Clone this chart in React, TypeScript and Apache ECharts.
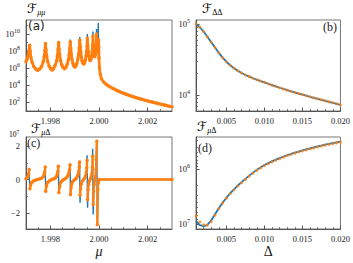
import React, { useEffect, useRef } from 'react';
import * as echarts from 'echarts';

const BLUE = '#1f77b4';
const ORANGE = '#ff7f0e';
const AX = '#555';
const TXT = '#1a1a1a';
const SERIF = "'Liberation Serif', 'DejaVu Serif', serif";
const SCRIPT = "'DejaVu Sans', 'Noto Sans', sans-serif";

// ---------- panel (a): log10 F_mumu vs mu ----------
const muA = [1.99700, 1.99705, 1.99710, 1.99713, 1.99715,
  1.99717, 1.99720, 1.99725, 1.99732, 1.99740, 1.99748, 1.99756, 1.99764, 1.99771, 1.99775, 1.99778, 1.99780,
  1.99782, 1.99785, 1.99789, 1.99795, 1.99801, 1.99807, 1.99813, 1.99819, 1.99826, 1.99829, 1.99832, 1.99834,
  1.99836, 1.99838, 1.99842, 1.99847, 1.99852, 1.99858, 1.99864, 1.99869, 1.99874, 1.99877, 1.99880, 1.99882,
  1.99884, 1.99886, 1.99889, 1.99893, 1.99897, 1.99901, 1.99905, 1.99909, 1.99913, 1.99916, 1.99919, 1.99921,
  1.99923, 1.99925, 1.99927, 1.99930, 1.99933, 1.99937, 1.99941, 1.99944, 1.99947, 1.99949, 1.99951, 1.99952,
  1.99954, 1.99956, 1.99958, 1.99961, 1.99964, 1.99967, 1.99970, 1.99972, 1.99974, 1.99975,
  1.99977, 1.99979, 1.99982, 1.99985, 1.99987, 1.99989, 1.99990,
  1.99992, 1.99994, 1.99996, 1.99998, 1.99999, 2.00000, 2.00002, 2.00005, 2.00010,
  2.0002, 2.0003, 2.0004, 2.0005, 2.0006, 2.0007, 2.0008, 2.0009, 2.0010, 2.0011, 2.0012, 2.0013, 2.0014, 2.0015,
  2.0016, 2.0017, 2.0018, 2.0019, 2.0020, 2.0021, 2.0022, 2.0023, 2.0024, 2.0025, 2.0026, 2.0027, 2.0028, 2.0029, 2.0030];
const logFmmDots = [6.75, 7.10, 7.70, 8.20, 8.70,
  8.00, 7.30, 6.70, 6.20, 5.90, 5.75, 5.90, 6.20, 6.75, 7.40, 8.10, 8.90,
  8.15, 7.45, 6.80, 6.25, 5.95, 5.80, 5.95, 6.30, 6.85, 7.45, 8.20, 9.00,
  8.25, 7.60, 6.90, 6.40, 6.10, 5.95, 6.10, 6.45, 6.95, 7.55, 8.30, 9.10,
  8.35, 7.70, 7.05, 6.55, 6.25, 6.15, 6.25, 6.55, 7.05, 7.60, 8.40, 9.30,
  8.55, 7.90, 7.35, 6.90, 6.60, 6.50, 6.65, 6.95, 7.45, 7.95, 8.60, 9.50,
  8.60, 7.90, 7.40, 7.05, 6.90, 7.05, 7.45, 7.95, 8.70, 9.75,
  8.60, 7.90, 7.35, 7.50, 8.00, 8.80, 10.00,
  8.70, 7.90, 8.40, 9.30, 8.50, 7.20, 6.00, 5.30, 4.75,
  4.35, 4.10, 3.90, 3.73, 3.58, 3.44, 3.31, 3.18, 3.07, 2.96, 2.86, 2.76, 2.66, 2.57,
  2.48, 2.40, 2.32, 2.24, 2.16, 2.09, 2.02, 1.95, 1.88, 1.81, 1.74, 1.67, 1.60, 1.53, 1.47];

const muAline = [1.99700, 1.99705, 1.99710, 1.99713, 1.99715,
  1.99717, 1.99720, 1.99725, 1.99732, 1.99740, 1.99748, 1.99756, 1.99764, 1.99771, 1.99775, 1.99778, 1.99780,
  1.99782, 1.99785, 1.99789, 1.99795, 1.99801, 1.99807, 1.99813, 1.99819, 1.99826, 1.99829, 1.99832, 1.99834,
  1.99836, 1.99838, 1.99842, 1.99847, 1.99852, 1.99858, 1.99864, 1.99869, 1.99874, 1.99877, 1.99880, 1.99882,
  1.99884, 1.99886, 1.99889, 1.99893, 1.99897, 1.99901, 1.99905, 1.99909, 1.99913, 1.99916, 1.99919, 1.99921,
  1.99923, 1.99925, 1.99927, 1.99930, 1.99933, 1.99937, 1.99941, 1.99944, 1.99947, 1.99949, 1.99951, 1.99952,
  1.99954, 1.99956, 1.99958, 1.99961, 1.99964, 1.99967, 1.99970, 1.99972, 1.99974, 1.99975,
  1.99977, 1.99979, 1.99982, 1.99985, 1.99987, 1.99989, 1.99990,
  1.99992, 1.99994, 1.99996, 1.99997, 1.99998, 1.99999, 2.00000, 2.00002, 2.00005, 2.00010,
  2.0002, 2.0003, 2.0004, 2.0005, 2.0006, 2.0007, 2.0008, 2.0009, 2.0010, 2.0011, 2.0012, 2.0013, 2.0014, 2.0015,
  2.0016, 2.0017, 2.0018, 2.0019, 2.0020, 2.0021, 2.0022, 2.0023, 2.0024, 2.0025, 2.0026, 2.0027, 2.0028, 2.0029, 2.0030];
const logFmmLine = [6.75, 7.10, 7.70, 8.20, 8.80,
  8.00, 7.30, 6.70, 6.20, 5.90, 5.75, 5.90, 6.20, 6.75, 7.40, 8.10, 9.00,
  8.15, 7.45, 6.80, 6.25, 5.95, 5.80, 5.95, 6.30, 6.85, 7.45, 8.20, 9.15,
  8.25, 7.60, 6.90, 6.40, 6.10, 5.95, 6.10, 6.45, 6.95, 7.55, 8.30, 9.35,
  8.35, 7.70, 7.05, 6.55, 6.25, 6.15, 6.25, 6.55, 7.05, 7.60, 8.40, 9.65,
  8.55, 7.90, 7.35, 6.90, 6.60, 6.50, 6.65, 6.95, 7.45, 7.95, 8.60, 10.00,
  8.60, 7.90, 7.40, 7.05, 6.90, 7.05, 7.45, 7.95, 8.70, 10.30,
  8.60, 7.90, 7.35, 7.50, 8.00, 8.80, 10.60,
  8.70, 7.90, 8.40, 11.30, 9.30, 8.50, 7.20, 6.00, 5.30, 4.75,
  4.35, 4.10, 3.90, 3.73, 3.58, 3.44, 3.31, 3.18, 3.07, 2.96, 2.86, 2.76, 2.66, 2.57,
  2.48, 2.40, 2.32, 2.24, 2.16, 2.09, 2.02, 1.95, 1.88, 1.81, 1.74, 1.67, 1.60, 1.53, 1.47];

// ---------- panel (c): F_muDelta (units of 1e7) vs mu ----------
const muC = [1.99700, 1.99704, 1.99708, 1.99711, 1.99713, 1.99714,
  1.99716, 1.99719, 1.99723, 1.99730, 1.99740, 1.99748, 1.99757, 1.99765, 1.99771, 1.99775, 1.99777, 1.99779, 1.99780,
  1.99781, 1.99784, 1.99788, 1.99795, 1.99802, 1.99808, 1.99815, 1.99821, 1.99826, 1.99829, 1.99831, 1.99833, 1.99834,
  1.99835, 1.99838, 1.99842, 1.99847, 1.99853, 1.99859, 1.99865, 1.99870, 1.99874, 1.99877, 1.99879, 1.99881, 1.99882,
  1.99883, 1.99885, 1.99888, 1.99892, 1.99897, 1.99902, 1.99907, 1.99911, 1.99914, 1.99917, 1.99919, 1.99920, 1.99921,
  1.99922, 1.99924, 1.99927, 1.99931, 1.99936, 1.99941, 1.99945, 1.99948, 1.99950, 1.99951, 1.99952,
  1.99953, 1.99955, 1.99957, 1.99960, 1.99964, 1.99968, 1.99971, 1.99973, 1.99974, 1.99975,
  1.99976, 1.99978, 1.99980, 1.99983, 1.99986, 1.99988, 1.99989, 1.99991, 1.99992,
  1.99993, 1.99995, 1.99997, 1.99999, 2.00000, 2.00300];
const fmdDotsC = [0.05, 0.10, 0.20, 0.35, 0.60, null,
  -0.55, -0.33, -0.18, -0.09, -0.03, 0.00, 0.04, 0.09, 0.18, 0.30, 0.45, 0.75, null,
  -0.70, -0.38, -0.20, -0.09, -0.03, 0.01, 0.05, 0.10, 0.20, 0.32, 0.48, 0.80, null,
  -0.78, -0.42, -0.20, -0.09, -0.02, 0.03, 0.09, 0.18, 0.30, 0.45, 0.60, 0.88, null,
  -0.90, -0.50, -0.27, -0.12, -0.04, 0.02, 0.08, 0.18, 0.30, 0.50, 0.75, 1.05, null,
  -0.95, -0.55, -0.27, -0.10, 0.00, 0.09, 0.22, 0.42, 0.70, 1.15, null,
  -1.20, -0.60, -0.30, -0.10, 0.02, 0.15, 0.35, 0.75, 1.40, null,
  -1.50, -0.70, -0.30, -0.05, 0.20, 0.60, 1.20, 2.30, null,
  -2.70, -0.60, -0.20, -0.05, 0.00, 0.00];
const fmdLineC = [0.05, 0.10, 0.20, 0.35, 0.62, 0,
  -0.56, -0.33, -0.18, -0.09, -0.03, 0.00, 0.04, 0.09, 0.18, 0.30, 0.45, 0.77, 0,
  -0.72, -0.38, -0.20, -0.09, -0.03, 0.01, 0.05, 0.10, 0.20, 0.32, 0.48, 0.82, 0,
  -0.85, -0.42, -0.20, -0.09, -0.02, 0.03, 0.09, 0.18, 0.30, 0.45, 0.60, 0.92, 0,
  -0.97, -0.50, -0.27, -0.12, -0.04, 0.02, 0.08, 0.18, 0.30, 0.50, 0.75, 1.12, 0,
  -1.40, -0.55, -0.27, -0.10, 0.00, 0.09, 0.22, 0.42, 0.70, 1.45, 0,
  -1.70, -0.60, -0.30, -0.10, 0.02, 0.15, 0.35, 0.75, 1.85, 0,
  -2.10, -0.70, -0.30, -0.05, 0.20, 0.60, 1.20, 2.35, 0,
  -2.78, -0.60, -0.20, -0.05, 0.00, 0.00];

// ---------- panels (b), (d): vs Delta ----------
const delta = [0.0010, 0.0015, 0.0020, 0.0025, 0.0030, 0.0035, 0.0040, 0.0045, 0.0050, 0.0055,
  0.0060, 0.0065, 0.0070, 0.0075, 0.0080, 0.0085, 0.0090, 0.0095, 0.0100, 0.0105,
  0.0110, 0.0115, 0.0120, 0.0125, 0.0130, 0.0135, 0.0140, 0.0145, 0.0150, 0.0155,
  0.0160, 0.0165, 0.0170, 0.0175, 0.0180, 0.0185, 0.0190, 0.0195, 0.0200];
const logFdd = [5.000, 4.955, 4.895, 4.820, 4.745, 4.670, 4.595, 4.527, 4.470, 4.420,
  4.378, 4.342, 4.311, 4.284, 4.260, 4.238, 4.217, 4.198, 4.180, 4.160,
  4.141, 4.122, 4.104, 4.087, 4.070, 4.054, 4.038, 4.022, 4.007, 3.992,
  3.977, 3.962, 3.948, 3.934, 3.920, 3.906, 3.892, 3.878, 3.864];
const logFmdLine = [6.940, 7.015, 7.035, 7.010, 6.930, 6.820, 6.710, 6.610, 6.520, 6.440,
  6.370, 6.300, 6.240, 6.180, 6.122, 6.068, 6.018, 5.974, 5.932, 5.897,
  5.864, 5.834, 5.806, 5.779, 5.754, 5.730, 5.708, 5.687, 5.667, 5.648,
  5.630, 5.612, 5.595, 5.579, 5.564, 5.549, 5.535, 5.521, 5.508];
const logFmdDots = [6.850, 6.960, 7.010, 7.015, 6.955, 6.835, 6.718, 6.618, 6.528, 6.448,
  6.378, 6.310, 6.250, 6.190, 6.132, 6.078, 6.028, 5.984, 5.942, 5.907,
  5.874, 5.844, 5.816, 5.789, 5.764, 5.740, 5.718, 5.697, 5.677, 5.658,
  5.640, 5.622, 5.605, 5.589, 5.574, 5.559, 5.545, 5.531, 5.518];

// ---------- ticks ----------
const muTicks = [1.998, 2.000, 2.002];
const muMinor = [1.9975, 1.9985, 1.999, 1.9995, 2.0005, 2.001, 2.0015, 2.0025];
const deltaTicks = [0.005, 0.010, 0.015, 0.020];
const deltaMinor = [0.002, 0.003, 0.004, 0.006, 0.007, 0.008, 0.009, 0.011, 0.012, 0.013, 0.014,
  0.016, 0.017, 0.018, 0.019];
const aDecades = [2, 4, 6, 8, 10];
const aMinor = [1, 3, 5, 7, 9, 11];
const bDecades = [4, 5];
const bMinorVals = [6e3, 7e3, 8e3, 9e3, 2e4, 3e4, 4e4, 5e4, 6e4, 7e4, 8e4, 9e4];
const cTicks = [-2, 0, 2];
const cMinor = [-1, 1];
const dDecades = [6, 7];
const dMinorVals = [3e5, 4e5, 5e5, 6e5, 7e5, 8e5, 9e5, 2e6, 3e6, 4e6, 5e6, 6e6, 7e6, 8e6, 9e6];

const zip = (xs: number[], ys: (number | null)[]) =>
  xs.slice(0, Math.min(xs.length, ys.length)).map((x, i) => [x, ys[i] === null ? '-' : ys[i]]);

const supRich = {
  s: { fontSize: 6, lineHeight: 5, verticalAlign: 'top', fontFamily: SERIF, color: TXT },
};
const powFmt = (v: number) => `10{s|${Math.round(v)}}`;

function xPair(gi: number, min: number, max: number, major: number[], minor: number[], name: string, italic: boolean) {
  const common = { type: 'value', gridIndex: gi, min, max, position: 'bottom', splitLine: { show: false } };
  const main = {
    ...common,
    axisLine: { show: true, onZero: false, lineStyle: { color: AX, width: 1 } },
    axisTick: { show: true, inside: true, length: 3.5, customValues: major, lineStyle: { color: AX, width: 1 } },
    axisLabel: {
      show: true, customValues: major, formatter: (v: number) => v.toFixed(3), margin: 5,
      fontFamily: SERIF, fontSize: 8.5, color: TXT,
    },
    name, nameLocation: 'middle', nameGap: 15,
    nameTextStyle: { fontFamily: SERIF, fontSize: 14, fontStyle: italic ? 'italic' : 'normal', color: TXT },
  };
  const min2 = {
    ...common,
    axisLine: { show: false, onZero: false },
    axisTick: { show: true, inside: true, length: 2, customValues: minor, lineStyle: { color: AX, width: 0.8 } },
    axisLabel: { show: false },
  };
  return [main, min2];
}

function yPair(gi: number, min: number, max: number, major: number[], minor: number[], fmt: any, rich: boolean, inverse = false) {
  const common = { type: 'value', gridIndex: gi, min, max, inverse, position: 'left', splitLine: { show: false } };
  const main = {
    ...common,
    axisLine: { show: true, onZero: false, lineStyle: { color: AX, width: 1 } },
    axisTick: { show: true, inside: true, length: 3.5, customValues: major, lineStyle: { color: AX, width: 1 } },
    axisLabel: {
      show: true, customValues: major, formatter: fmt, margin: 6,
      fontFamily: SERIF, fontSize: 8.5, color: TXT, lineHeight: 12,
      ...(rich ? { rich: supRich } : {}),
    },
  };
  const min2 = {
    ...common,
    axisLine: { show: false, onZero: false },
    axisTick: { show: true, inside: true, length: 2, customValues: minor, lineStyle: { color: AX, width: 0.8 } },
    axisLabel: { show: false },
  };
  return [main, min2];
}

const gridStyle = { show: true, borderColor: '#777', borderWidth: 1, backgroundColor: 'transparent' };

const titleRich = (italic: boolean) => ({
  f: { fontSize: 13, fontFamily: SCRIPT, fontWeight: 'normal', lineHeight: 16, color: TXT },
  s: { fontSize: 8, fontFamily: SERIF, fontStyle: italic ? 'italic' : 'normal', lineHeight: 9, verticalAlign: 'bottom', color: TXT },
  u: { fontSize: 8, fontFamily: SERIF, lineHeight: 9, verticalAlign: 'bottom', color: TXT },
});

function buildOption() {
  const xa = xPair(0, 1.997, 2.003, muTicks, muMinor, '', true);
  const xb = xPair(1, 0.001, 0.020, deltaTicks, deltaMinor, '', false);
  const xc = xPair(2, 1.997, 2.003, muTicks, muMinor, 'μ', true);
  const xd = xPair(3, 0.001, 0.020, deltaTicks, deltaMinor, 'Δ', false);
  const ya = yPair(0, 0.98, 11.65, aDecades, aMinor, powFmt, true);
  const yb = yPair(1, 3.777, 5.057, bDecades, bMinorVals.map((v) => Math.log10(v)), powFmt, true);
  const yc = yPair(2, -2.97, 2.55, cTicks, cMinor, (v: number) => (v < 0 ? '−' + Math.abs(v) : String(v)), false);
  const yd = yPair(3, 5.425, 7.085, dDecades, dMinorVals.map((v) => Math.log10(v)), powFmt, true, true);

  const orangeLine = (xi: number, data: any[], w: number) => ({
    type: 'line', xAxisIndex: xi, yAxisIndex: xi, data, z: 3,
    symbol: 'circle', symbolSize: 3.5, showSymbol: true, showAllSymbol: true,
    connectNulls: false,
    itemStyle: { color: ORANGE }, lineStyle: { color: ORANGE, width: w },
  });
  const blueLine = (xi: number, data: any[], w: number) => ({
    type: 'line', xAxisIndex: xi, yAxisIndex: xi, data, z: 2, showSymbol: false,
    lineStyle: { color: BLUE, width: w }, itemStyle: { color: BLUE },
  });
  const orangeDots = (xi: number, data: any[]) => ({
    type: 'scatter', xAxisIndex: xi, yAxisIndex: xi, data, z: 3, symbolSize: 3,
    itemStyle: { color: ORANGE },
  });

  return {
    animation: false,
    textStyle: { fontFamily: SERIF },
    grid: [
      { left: 26, top: 20, width: 146, height: 91, ...gridStyle },
      { left: 196, top: 20, width: 146, height: 91, ...gridStyle },
      { left: 26, top: 137, width: 146, height: 92, ...gridStyle },
      { left: 196, top: 137, width: 146, height: 92, ...gridStyle },
    ],
    xAxis: [xa[0], xb[0], xc[0], xd[0], xa[1], xb[1], xc[1], xd[1]],
    yAxis: [ya[0], yb[0], yc[0], yd[0], ya[1], yb[1], yc[1], yd[1]],
    series: [
      blueLine(0, zip(muAline, logFmmLine), 1.4),
      orangeLine(0, zip(muA, logFmmDots), 2.8),
      blueLine(1, zip(delta, logFdd), 1.8),
      orangeDots(1, zip(delta, logFdd)),
      blueLine(2, zip(muC, fmdLineC), 1.4),
      orangeLine(2, zip(muC, fmdDotsC), 2.4),
      blueLine(3, zip(delta, logFmdLine), 1.8),
      orangeDots(3, zip(delta, logFmdDots)),
    ],
    graphic: [
      { type: 'text', left: 27, top: 2, style: { text: '{f|ℱ}{s|μμ}', rich: titleRich(true) } },
      { type: 'text', left: 202, top: 2, style: { text: '{f|ℱ}{u|ΔΔ}', rich: titleRich(false) } },
      { type: 'text', left: 31, top: 122, style: { text: '{f|ℱ}{s|μ}{u|Δ}', rich: titleRich(true) } },
      { type: 'text', left: 197, top: 120, style: { text: '{f|ℱ}{s|μ}{u|Δ}', rich: titleRich(true) } },
      { type: 'text', left: 28, top: 20, style: { text: '(a)', fontSize: 12, fontFamily: "'DejaVu Sans', sans-serif", fill: TXT } },
      { type: 'text', left: 323, top: 21, style: { text: '(b)', fontSize: 12, fontFamily: SERIF, fill: TXT } },
      { type: 'text', left: 27, top: 137, style: { text: '(c)', fontSize: 12, fontFamily: SERIF, fill: TXT } },
      { type: 'text', left: 198, top: 142, style: { text: '(d)', fontSize: 12, fontFamily: SERIF, fill: TXT } },
      {
        type: 'text', left: 9, top: 129,
        style: {
          text: '{b|10}{s|7}',
          rich: {
            b: { fontSize: 7.5, fontFamily: SERIF, lineHeight: 10, color: TXT },
            s: { fontSize: 5.5, fontFamily: SERIF, lineHeight: 5, verticalAlign: 'top', color: TXT },
          },
        },
      },
    ],
  };
}

export default function App() {
  const ref = useRef<HTMLDivElement>(null);
  useEffect(() => {
    if (!ref.current) return;
    const chart = echarts.init(ref.current, null, { renderer: 'svg' });
    chart.setOption(buildOption() as any);
    return () => chart.dispose();
  }, []);
  return (
    <div
      ref={ref}
      style={{ position: 'fixed', left: 0, top: 0, width: 353, height: 263, background: '#fff' }}
    />
  );
}
